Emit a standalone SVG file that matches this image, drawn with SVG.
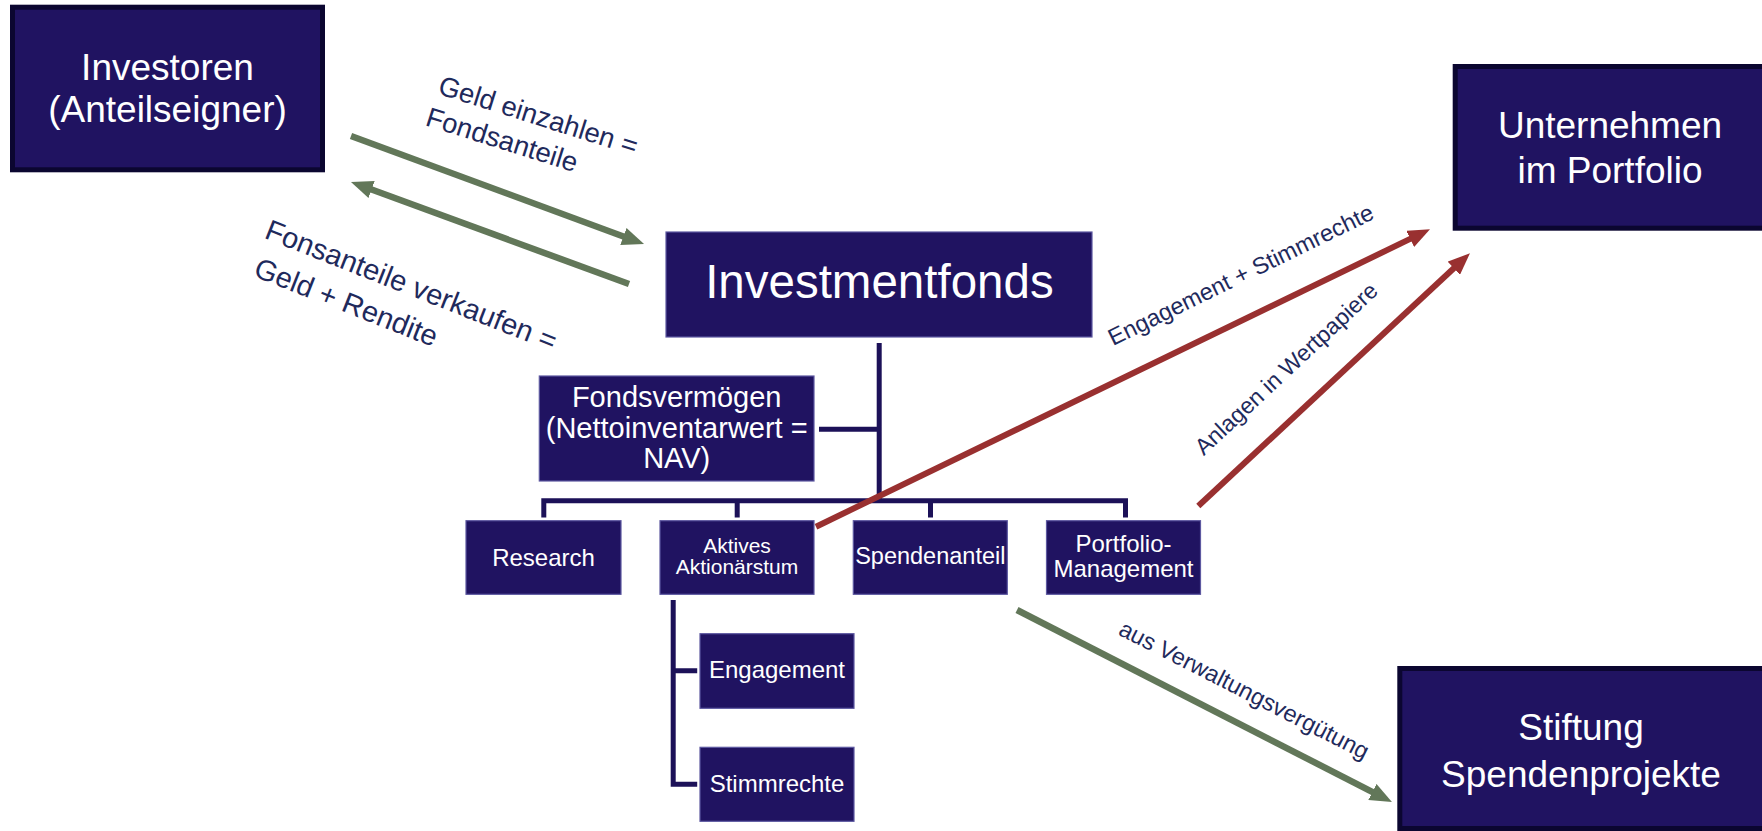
<svg xmlns="http://www.w3.org/2000/svg" width="1762" height="831" viewBox="0 0 1762 831">
<defs>
<style>
.big{fill:#201361;stroke:#0b0630;stroke-width:5}
.box{fill:#201361;stroke:#5d58a0;stroke-width:1.2}
.t{font-family:"Liberation Sans",Arial,sans-serif;fill:#ffffff;text-anchor:middle}
.lbl{font-family:"Liberation Sans",Arial,sans-serif;fill:#1f2a5c}
.tree{stroke:#1c1158;stroke-width:5;fill:none;stroke-linecap:square}
.g{stroke:#627759;stroke-width:6.5;fill:none}
.r{stroke:#993030;stroke-width:6;fill:none}
</style>
<marker id="ag" markerUnits="userSpaceOnUse" markerWidth="22" markerHeight="18" refX="8" refY="9" orient="auto" viewBox="0 0 22 18">
<path d="M0,0 L22,9 L0,18 z" fill="#627759"/>
</marker>
<marker id="ar" markerUnits="userSpaceOnUse" markerWidth="22" markerHeight="18" refX="8" refY="9" orient="auto" viewBox="0 0 22 18">
<path d="M0,0 L22,9 L0,18 z" fill="#993030"/>
</marker>
</defs>
<rect width="1762" height="831" fill="#ffffff"/>

<g id="investoren">
<rect class="big" x="12.5" y="7.2" width="310" height="162.6"/>
<text class="t" font-size="37"><tspan x="167.5" y="80">Investoren</tspan><tspan x="167.5" y="121.7">(Anteilseigner)</tspan></text>
</g>

<g id="unternehmen">
<rect class="big" x="1455.2" y="66.5" width="320" height="161.7"/>
<text class="t" font-size="37"><tspan x="1610" y="138.3">Unternehmen</tspan><tspan x="1610" y="183.3">im Portfolio</tspan></text>
</g>

<g id="stiftung">
<rect class="big" x="1399.8" y="668.5" width="380" height="160"/>
<text class="t" font-size="37"><tspan x="1581" y="740">Stiftung</tspan><tspan x="1581" y="786.7">Spendenprojekte</tspan></text>
</g>

<g id="investmentfonds">
<rect class="box" x="666" y="232" width="426" height="105"/>
<text class="t" font-size="47.5" x="879.4" y="298.3">Investmentfonds</text>
</g>

<g id="fondsvermoegen">
<rect class="box" x="539.3" y="376" width="274.7" height="105"/>
<text class="t" font-size="29"><tspan x="676.7" y="406.7">Fondsvermögen</tspan><tspan x="676.7" y="438.3">(Nettoinventarwert =</tspan><tspan x="676.7" y="468.3">NAV)</tspan></text>
</g>

<g id="research">
<rect class="box" x="466" y="520.7" width="155" height="73.6"/>
<text class="t" font-size="24" x="543.5" y="566">Research</text>
</g>

<g id="aktives">
<rect class="box" x="660" y="520.7" width="154" height="73.6"/>
<text class="t" font-size="21"><tspan x="737" y="552.7">Aktives</tspan><tspan x="737" y="574.3">Aktionärstum</tspan></text>
</g>

<g id="spendenanteil">
<rect class="box" x="853.3" y="520.7" width="154" height="73.6"/>
<text class="t" font-size="23.5" x="930.3" y="564.3">Spendenanteil</text>
</g>

<g id="portfolio">
<rect class="box" x="1046.5" y="520.7" width="154" height="73.6"/>
<text class="t" font-size="24"><tspan x="1123.5" y="552">Portfolio-</tspan><tspan x="1123.5" y="577">Management</tspan></text>
</g>

<g id="engagement">
<rect class="box" x="700" y="633.7" width="154" height="74.6"/>
<text class="t" font-size="24" x="777" y="678.3">Engagement</text>
</g>

<g id="stimmrechte">
<rect class="box" x="700" y="747.3" width="154" height="74"/>
<text class="t" font-size="24" x="777" y="791.7">Stimmrechte</text>
</g>

<g id="connectors">
<path class="tree" d="M879.2,345.5 V500.8 M821.5,429.3 H879.2 M543.8,515 V500.8 H1125.5 V515 M737.2,500.8 V515 M930.5,500.8 V515"/>
<path class="tree" d="M673.2,602.5 V784.2 H694.7 M673.2,670.8 H694.7" stroke-linecap="butt"/>
<line class="g" x1="351" y1="136" x2="630.9" y2="239.2" marker-end="url(#ag)"/>
<line class="g" x1="629" y1="284" x2="364.1" y2="186.8" marker-end="url(#ag)"/>
<line class="g" x1="1017" y1="610" x2="1379.5" y2="795.6" marker-end="url(#ag)"/>
<line class="r" x1="816" y1="526.7" x2="1417.4" y2="235.4" marker-end="url(#ar)"/>
<line class="r" x1="1198.3" y1="506" x2="1459.7" y2="262.8" marker-end="url(#ar)"/>
<g id="labels">
<text class="lbl" font-size="27.5" transform="translate(436.7,93.5) rotate(17.5)"><tspan x="0" y="0">Geld einzahlen =</tspan><tspan x="-2.5" y="33.7">Fondsanteile</tspan></text>
<text class="lbl" font-size="29" transform="translate(263.3,237.7) rotate(21.5)"><tspan x="0" y="0">Fonsanteile verkaufen =</tspan><tspan x="3.7" y="39.5">Geld + Rendite</tspan></text>
<text class="lbl" font-size="23.5" text-anchor="middle" transform="translate(1244.3,282.1) rotate(-26)" x="0" y="0">Engagement + Stimmrechte</text>
<text class="lbl" font-size="23" text-anchor="middle" transform="translate(1291.6,374.4) rotate(-43)" x="0" y="0">Anlagen in Wertpapiere</text>
<text class="lbl" font-size="23.5" text-anchor="middle" transform="translate(1240.6,697) rotate(27)" x="0" y="0">aus Verwaltungsvergütung</text>
</g>
</g>
</svg>
